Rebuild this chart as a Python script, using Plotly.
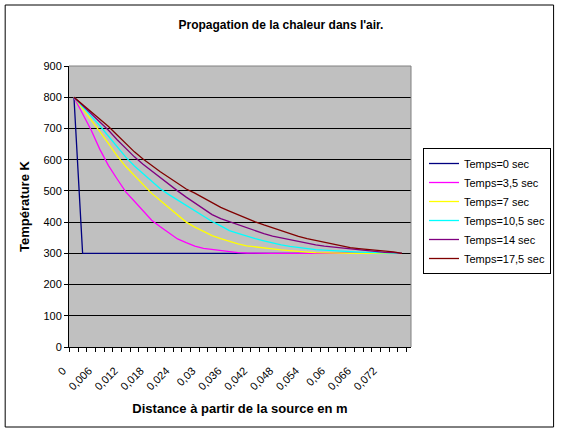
import plotly.graph_objects as go

# distance from the source (m), one point every 2 mm
distance = [0, 0.002, 0.004, 0.006, 0.008, 0.01, 0.012, 0.014, 0.016, 0.018,
            0.02, 0.022, 0.024, 0.026, 0.028, 0.03, 0.032, 0.034, 0.036, 0.038,
            0.04, 0.042, 0.044, 0.046, 0.048, 0.05, 0.052, 0.054, 0.056, 0.058,
            0.06, 0.062, 0.064, 0.066, 0.068, 0.07, 0.072, 0.074, 0.076]

# temperature (K), one list per time step
temps_0 = [800, 300, 300, 300, 300, 300, 300, 300, 300, 300,
           300, 300, 300, 300, 300, 300, 300, 300, 300, 300,
           300, 300, 300, 300, 300, 300, 300, 300, 300, 300,
           300, 300, 300, 300, 300, 300, 300, 300, 300]
temps_3_5 = [800, 746, 694, 633, 581, 538, 497, 467, 436, 406,
             385, 365, 346, 334, 323, 316, 312, 308, 304, 302,
             301, 300, 300, 300, 300, 300, 300, 300, 300, 300,
             300, 300, 300, 300, 300, 300, 300, 300, 300]
temps_7 = [800, 764, 727, 690, 651, 612, 578, 549, 519, 492,
           469, 445, 422, 400, 384, 370, 357, 347, 338, 330,
           324, 320, 317, 314, 311, 308, 305, 304, 302, 301,
           300, 300, 300, 300, 300, 300, 300, 300, 300]
temps_10_5 = [800, 770, 740, 709, 675, 640, 608, 580, 555, 532,
              507, 488, 471, 454, 436, 419, 402, 388, 373, 364,
              355, 347, 340, 333, 327, 322, 318, 315, 312, 310,
              308, 306, 305, 304, 303, 302, 301, 300, 300]
temps_14 = [800, 774, 747, 721, 694, 664, 635, 609, 585, 563,
            541, 520, 500, 480, 461, 443, 424, 411, 401, 391,
            381, 372, 363, 355, 349, 343, 337, 331, 327, 323,
            320, 316, 313, 311, 309, 306, 303, 302, 300]
temps_17_5 = [800, 777, 754, 730, 706, 679, 652, 625, 602, 581,
              561, 543, 524, 506, 493, 477, 461, 447, 435, 423,
              412, 401, 391, 382, 371, 362, 354, 347, 341, 335,
              329, 323, 318, 315, 313, 310, 308, 305, 300]

series_names = ["Temps=0 sec", "Temps=3,5 sec", "Temps=7 sec",
                "Temps=10,5 sec", "Temps=14 sec", "Temps=17,5 sec"]
series_colors = ["#000080", "#FF00FF", "#FFFF00", "#00FFFF", "#800080", "#800000"]

x_tickvals = [0, 0.006, 0.012, 0.018, 0.024, 0.03, 0.036, 0.042, 0.048, 0.054, 0.06, 0.066, 0.072]
x_ticktext = ["0", "0,006", "0,012", "0,018", "0,024", "0,03", "0,036",
              "0,042", "0,048", "0,054", "0,06", "0,066", "0,072"]

FONT = "Arial, Liberation Sans, sans-serif"
x_lo, x_hi = -0.00115, 0.07808

fig = go.Figure()
for name, col, ys in zip(series_names, series_colors,
                         [temps_0, temps_3_5, temps_7, temps_10_5, temps_14, temps_17_5]):
    fig.add_trace(go.Scatter(x=distance, y=ys, name=name, mode="lines",
                             line=dict(color=col, width=1.3)))

fig.update_layout(
    width=562, height=434,
    margin=dict(l=69, r=150, t=66, b=87),
    paper_bgcolor="white",
    plot_bgcolor="#C0C0C0",
    font=dict(family=FONT, size=11, color="black"),
    title=dict(text="<b>Propagation de la chaleur dans l'air.</b>",
               x=0.5, xref="container", y=1 - 25 / 434, yanchor="middle",
               font=dict(size=12)),
    legend=dict(x=(423 - 69) / 343, y=(347 - 148) / 281, xanchor="left", yanchor="top",
                bgcolor="white", bordercolor="black", borderwidth=1,
                font=dict(size=11), tracegroupgap=0),
    xaxis=dict(range=[x_lo, x_hi], tickmode="array", tickvals=x_tickvals, ticktext=x_ticktext,
               tickangle=-45, ticks="", showgrid=False, zeroline=False,
               ticklabelshift=-11, ticklabelstandoff=12,
               showline=True, linecolor="black", linewidth=1,
               minor=dict(ticks="outside", tick0=-0.001, dtick=0.002, ticklen=4,
                          tickcolor="black", showgrid=False),
               title=dict(text="<b>Distance à partir de la source en m</b>", standoff=12)),
    yaxis=dict(range=[0, 900], dtick=100, showgrid=True, gridcolor="black", gridwidth=1,
               zeroline=False, showline=True, linecolor="black", linewidth=1,
               ticks="outside", ticklen=4, tickcolor="black",
               title=dict(text="<b>Température K</b>", standoff=10)),
)

# grey top and right edges of the plot area, like the spreadsheet frame
fig.add_shape(type="line", xref="x domain", yref="y domain", x0=0, x1=1, y0=1, y1=1,
              line=dict(color="#808080", width=1))
fig.add_shape(type="line", xref="x domain", yref="y domain", x0=1, x1=1, y0=0, y1=1,
              line=dict(color="#808080", width=1))
# outer chart border
fig.add_shape(type="rect", xref="paper", yref="paper",
              x0=(5 - 69) / 343, x1=(555 - 69) / 343,
              y0=(347 - 427) / 281, y1=(347 - 5) / 281,
              line=dict(color="black", width=1))

fig.write_html("out.html", config={"displayModeBar": False},
               post_script="document.body.style.margin='0';")
